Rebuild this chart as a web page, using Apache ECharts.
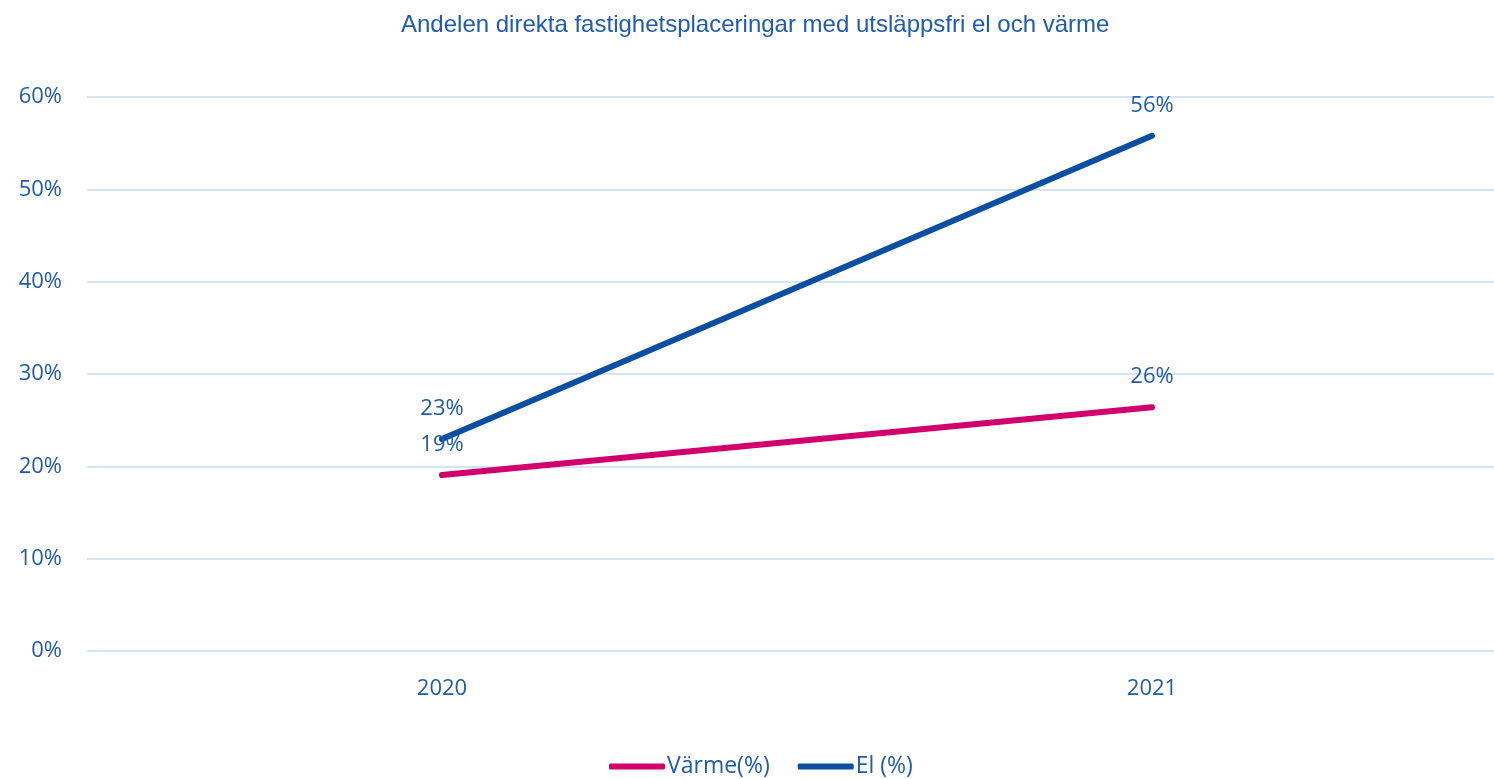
<!DOCTYPE html>
<html>
<head>
<meta charset="utf-8">
<script src="https://cdn.jsdelivr.net/npm/echarts@6/dist/echarts.min.js"></script>
<style>html,body{margin:0;padding:0;background:#fff;}#c{width:1494px;height:779px;}</style>
</head>
<body>
<div id="c"></div>
<script>
const categories = ['2020', '2021'];
const varme = [19.05, 26.4];
const el = [22.95, 55.8];
const seriesNames = ['Värme(%)', 'El (%)'];
const title = 'Andelen direkta fastighetsplaceringar med utsläppsfri el och värme';

const textBlue = '#1F5BAF';
const chart = echarts.init(document.getElementById('c'));
const lbl = {
  show: true, position: 'top', distance: 19,
  formatter: p => Math.round(p.value) + '%',
  fontFamily: 'Open Sans', fontSize: 22, color: textBlue
};
chart.setOption({
  animation: false,
  title: {
    text: title, left: 396, top: 8,
    textStyle: { fontFamily: 'Liberation Sans', fontSize: 24, fontWeight: 'normal', color: '#1F5BAF' }
  },
  grid: { left: 87, width: 1420, top: 97, bottom: 128, outerBoundsMode: 'none', containLabel: false },
  legend: {
    bottom: -4, left: 604, itemWidth: 56, itemHeight: 6, itemGap: 28, icon: 'roundRect',
    textStyle: { fontFamily: 'Open Sans', fontSize: 23, color: textBlue, padding: [0, 0, 0, -3] },
    data: seriesNames
  },
  xAxis: {
    type: 'category', data: categories, boundaryGap: true,
    axisLine: { show: false }, axisTick: { show: false },
    axisLabel: { fontFamily: 'Open Sans', fontSize: 22, color: textBlue, margin: 27 }
  },
  yAxis: {
    type: 'value', min: 0, max: 60, interval: 10,
    axisLabel: { formatter: '{value}%', fontFamily: 'Open Sans', fontSize: 22, color: textBlue, margin: 25 },
    splitLine: { lineStyle: { color: '#D4E4F7', width: 2 } }
  },
  series: [
    {
      name: seriesNames[0], type: 'line', data: varme, showSymbol: true, symbol: 'circle', symbolSize: 0.1,
      lineStyle: { color: '#D1006D', width: 6, cap: 'round' }, itemStyle: { color: '#D1006D' },
      label: lbl
    },
    {
      name: seriesNames[1], type: 'line', data: el, showSymbol: true, symbol: 'circle', symbolSize: 0.1,
      lineStyle: { color: '#0B4FA3', width: 6, cap: 'round' }, itemStyle: { color: '#0B4FA3' },
      label: lbl
    }
  ]
});
</script>
</body>
</html>
